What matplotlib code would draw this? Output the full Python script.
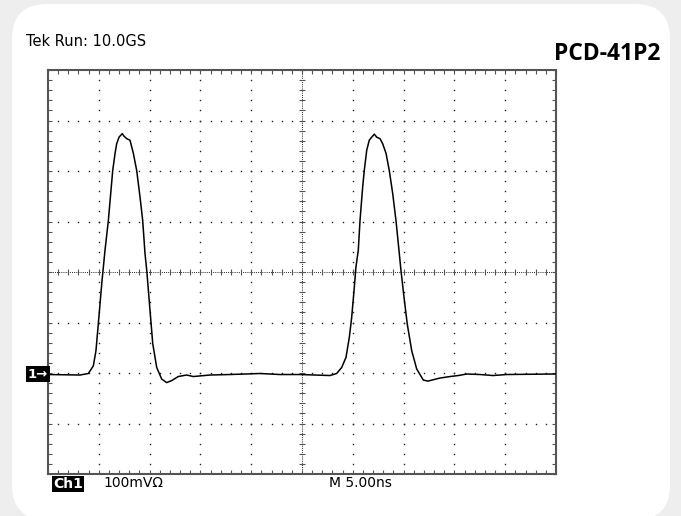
import matplotlib
matplotlib.use("Agg")
import matplotlib.pyplot as plt
import matplotlib.patches as mpatches
from matplotlib.transforms import IdentityTransform
import numpy as np

# trace: time in ns (5 ns/div), level in mV (100 mV/div, 0 = screen centre)
t_ns = [0.0, 3.15, 3.97, 4.46, 4.72, 4.95, 5.29, 5.61, 5.94, 6.17, 6.37, 6.60, 6.76, 6.99,
        7.31, 7.48, 7.75, 8.07, 8.40, 8.73, 9.06, 9.32, 9.55, 9.72, 10.04, 10.31, 10.70,
        11.19, 11.68, 12.18, 12.82, 13.65, 14.30, 15.94, 17.9, 20.87, 22.83, 24.80,
        27.76, 28.41, 28.91, 29.33, 29.66, 29.89, 30.12, 30.31, 30.54, 30.71, 30.97,
        31.13, 31.37, 31.62, 31.86, 32.12, 32.35, 32.68, 32.94, 33.27, 33.59, 33.93,
        34.25, 34.58, 34.74, 35.04, 35.36, 35.80, 36.29, 36.94, 37.40, 37.99, 38.58,
        39.57, 40.39, 41.21, 42.52, 43.80, 45.15, 49.70, 50.0]
v_mv = [-203, -204, -201, -186, -156, -103, -23, 43, 102, 155, 201, 235, 254, 267,
        274, 269, 264, 261, 235, 201, 148, 102, 36, 3, -76, -142, -189,
        -212, -219, -215, -207, -204, -207, -204, -203, -201, -203, -203,
        -205, -201, -189, -169, -129, -90, -37, 10, 43, 102, 168,
        201, 241, 261, 267, 273, 267, 264, 254, 235, 201, 155,
        102, 36, 3, -50, -103, -156, -192, -214, -216, -213, -210,
        -207, -205, -202, -203, -205, -203, -202, -202]

header = "Tek Run: 10.0GS"
title = "PCD-41P2"
ch_label = "Ch1"
ch_scale = "100mV\u03a9"
time_scale = "M 5.00ns"

W, H = 681, 516
fig = plt.figure(figsize=(W / 100, H / 100), dpi=100, facecolor="#eeeeee")

# white rounded card behind everything (pixel coords, y up)
card = mpatches.FancyBboxPatch((12 + 35, -4 + 35), 658 - 70, 516 - 70,
                               boxstyle="round,pad=35", transform=IdentityTransform(),
                               facecolor="white", edgecolor="none", zorder=-5)
fig.patches.append(card)

L, R, T, B = 48, 556, 70, 474
ax = fig.add_axes([L / W, 1 - B / H, (R - L) / W, (B - T) / H])
ax.set_zorder(2)
ax.set_xlim(0, 50)
ax.set_ylim(-400, 400)
ax.set_facecolor("white")
for s in ax.spines.values():
    s.set_color("#555555")
    s.set_linewidth(1.5)

minor_x = np.arange(0, 50.01, 1.0)
minor_y = np.arange(-400, 400.01, 20.0)
ax.set_xticks(minor_x)
ax.set_yticks(minor_y)
ax.tick_params(direction="in", length=3, width=0.8, color="#555555",
               top=True, right=True, labelbottom=False, labelleft=False)

dot = dict(ls="none", marker="s", ms=1.0, mec="none", mfc="#222222", zorder=1)
# dotted graticule
for gx in range(5, 50, 5):
    if gx == 25:
        continue
    ax.plot(np.full_like(minor_y, gx), minor_y, **dot)
for gy in range(-300, 400, 100):
    if gy == 0:
        continue
    ax.plot(minor_x, np.full_like(minor_x, gy), **dot)

# centre cross: dense dots with small ticks
ax.plot([0, 50], [0, 0], color="#222222", lw=0.7, ls=(0, (1, 1.2)), zorder=1)
ax.plot([25, 25], [-400, 400], color="#222222", lw=0.7, ls=(0, (1, 1.2)), zorder=1)
ax.plot(minor_x, np.zeros_like(minor_x), ls="none", marker="|", ms=4, mew=0.8,
        color="#555555", zorder=1)
ax.plot(np.full_like(minor_y, 25), minor_y, ls="none", marker="_", ms=4, mew=0.8,
        color="#555555", zorder=1)

ax.plot(t_ns, v_mv, color="black", lw=1.1, zorder=3)

def px(x, y):
    return x / W, 1 - y / H

fig.text(*px(26, 42), header, fontsize=10.5, family="DejaVu Sans", va="center", ha="left")
fig.text(*px(660, 54), title, fontsize=16.5, family="Open Sans", weight="bold",
         va="center", ha="right")
fig.text(*px(53, 484), ch_label, fontsize=10, family="DejaVu Sans", weight="bold", color="white",
         va="center", ha="left",
         bbox=dict(boxstyle="square,pad=0.08", facecolor="black", edgecolor="none"))
fig.text(*px(103, 483), ch_scale, fontsize=10, family="DejaVu Sans", va="center", ha="left")
fig.text(*px(329, 483), time_scale, fontsize=10, family="DejaVu Sans", va="center", ha="left")
fig.text(*px(28, 374), "1\u2192", fontsize=9.5, family="DejaVu Sans", weight="bold", color="white",
         va="center", ha="left",
         bbox=dict(boxstyle="square,pad=0.12", facecolor="black", edgecolor="none"))

fig.savefig("out.png", dpi=100, facecolor=fig.get_facecolor())
